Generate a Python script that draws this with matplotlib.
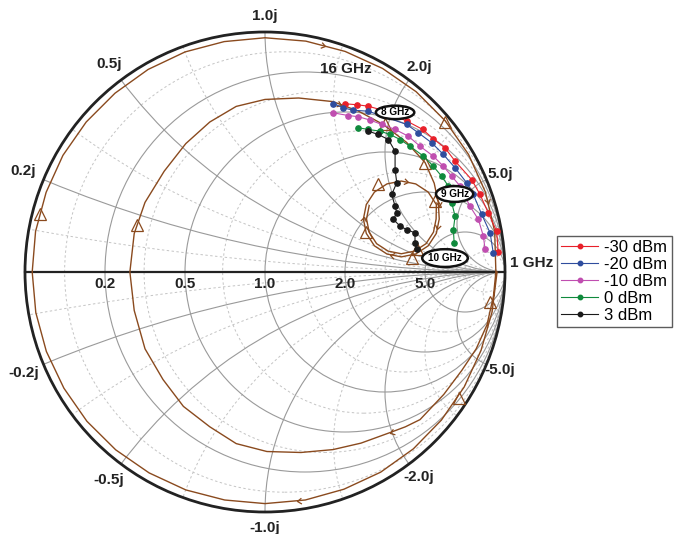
import numpy as np
import matplotlib

matplotlib.use("Agg")
import matplotlib.pyplot as plt
from matplotlib.lines import Line2D
from matplotlib.markers import MarkerStyle
from matplotlib.patches import Circle, Ellipse
from matplotlib.path import Path
from matplotlib.transforms import Affine2D

plt.rcParams["font.family"] = ["Liberation Sans", "DejaVu Sans"]

# measured reflection coefficient (re, im), from the 16 GHz end to the 1 GHz end
RED_RE = [0.333, 0.382, 0.430, 0.479, 0.593, 0.657, 0.701, 0.750, 0.792, 0.861, 0.896, 0.930, 0.965, 0.972]
RED_IM = [0.701, 0.697, 0.691, 0.677, 0.628, 0.594, 0.555, 0.517, 0.462, 0.385, 0.323, 0.247, 0.170, 0.083]
BLUE_RE = [0.285, 0.326, 0.368, 0.430, 0.590, 0.639, 0.695, 0.743, 0.792, 0.840, 0.868, 0.903, 0.938, 0.951]
BLUE_IM = [0.702, 0.684, 0.674, 0.670, 0.615, 0.580, 0.538, 0.490, 0.434, 0.372, 0.323, 0.240, 0.163, 0.080]
MAG_RE = [0.285, 0.347, 0.389, 0.438, 0.486, 0.542, 0.597, 0.646, 0.701, 0.743, 0.778, 0.813, 0.854, 0.889, 0.910, 0.917]
MAG_IM = [0.663, 0.652, 0.647, 0.633, 0.615, 0.594, 0.566, 0.524, 0.483, 0.441, 0.399, 0.358, 0.274, 0.219, 0.149, 0.094]
GREEN_RE = [0.389, 0.430, 0.479, 0.521, 0.563, 0.604, 0.660, 0.701, 0.736, 0.764, 0.778, 0.792, 0.785, 0.788]
GREEN_IM = [0.601, 0.594, 0.587, 0.573, 0.552, 0.524, 0.483, 0.441, 0.399, 0.358, 0.288, 0.233, 0.177, 0.122]
BLACK_RE = [0.430, 0.472, 0.514, 0.542, 0.542, 0.549, 0.528, 0.542, 0.549, 0.535, 0.563, 0.590, 0.625, 0.625, 0.632]
BLACK_IM = [0.587, 0.573, 0.552, 0.503, 0.427, 0.372, 0.323, 0.274, 0.247, 0.219, 0.191, 0.177, 0.163, 0.122, 0.094]

SERIES = [
    ("-30 dBm", RED_RE, RED_IM, "#e8202a"),
    ("-20 dBm", BLUE_RE, BLUE_IM, "#2f4d9e"),
    ("-10 dBm", MAG_RE, MAG_IM, "#c04eb0"),
    ("0 dBm", GREEN_RE, GREEN_IM, "#0f8a3c"),
    ("3 dBm", BLACK_RE, BLACK_IM, "#1a1a1a"),
]

# simulated response, 1 GHz -> 16 GHz (spiral: outer loop, middle loop, small loop)
SIM_RE = [0.967, 0.946, 0.900, 0.830, 0.735, 0.618, 0.482, 0.329, 0.168, 0.000, -0.168, -0.330,
          -0.483, -0.622, -0.742, -0.838, -0.911, -0.955, -0.970, -0.956, -0.912, -0.842, -0.745,
          -0.625, -0.487, -0.333, -0.170, 0.000, 0.170, 0.334, 0.490, 0.630, 0.751, 0.848, 0.918,
          0.957, 0.962,
          0.952, 0.925, 0.880, 0.820, 0.745, 0.646, 0.585, 0.521, 0.400, 0.283, 0.150, 0.008, -0.120,
          -0.230, -0.340, -0.425, -0.500, -0.545, -0.563, -0.545, -0.500, -0.420, -0.330, -0.230,
          -0.120, 0.000, 0.140, 0.283, 0.390, 0.492, 0.590, 0.667, 0.705, 0.722,
          0.726, 0.714, 0.680, 0.628, 0.568, 0.508, 0.456, 0.422, 0.410, 0.422, 0.456, 0.508, 0.568,
          0.628, 0.680, 0.714, 0.713, 0.702, 0.671, 0.623, 0.568, 0.513, 0.465, 0.434, 0.423, 0.434]
SIM_IM = [0.000, -0.167, -0.327, -0.479, -0.617, -0.737, -0.834, -0.905, -0.950, -0.965, -0.950, -0.908,
          -0.837, -0.741, -0.622, -0.484, -0.331, -0.169, 0.000, 0.169, 0.332, 0.486, 0.625,
          0.745, 0.844, 0.917, 0.960, 0.976, 0.962, 0.919, 0.848, 0.751, 0.630, 0.490, 0.334,
          0.169, 0.000,
          -0.100, -0.220, -0.320, -0.410, -0.510, -0.615, -0.645, -0.669, -0.713, -0.740, -0.752, -0.748,
          -0.715, -0.645, -0.560, -0.448, -0.320, -0.160, 0.000, 0.160, 0.290, 0.420, 0.535, 0.625,
          0.690, 0.719, 0.725, 0.710, 0.670, 0.615, 0.540, 0.456, 0.370, 0.290,
          0.221, 0.161, 0.109, 0.075, 0.063, 0.075, 0.109, 0.161, 0.221, 0.281, 0.333, 0.367, 0.379,
          0.367, 0.333, 0.281, 0.221, 0.166, 0.118, 0.087, 0.076, 0.087, 0.118, 0.166, 0.221, 0.276]
MARK_RE = [0.938, 0.808, -0.938, 0.750, -0.533, 0.500, 0.667, 0.708, 0.471, 0.421, 0.611, 0.632]
MARK_IM = [-0.127, -0.523, 0.240, 0.627, 0.194, 0.615, 0.456, 0.294, 0.365, 0.165, 0.059, 0.094]
ARROW_RE = [0.258, 0.938, 0.133, 0.521, 0.596, 0.721, 0.721, 0.521, 0.408, 0.321]
ARROW_IM = [0.969, 0.290, -0.948, -0.669, 0.385, 0.273, 0.177, 0.065, 0.231, 0.710]

GRID_MAJOR = [0.2, 0.5, 1.0, 2.0, 5.0]
GRID_MINOR = [0.09, 0.33, 0.7, 1.4, 3.0, 11.0]
BROWN = "#8a4a1e"

fig = plt.figure(figsize=(6.75, 5.34), dpi=100)
ax = fig.add_axes([25 / 675, 22 / 534, 480 / 675, 480 / 534])
ax.set_xlim(-1, 1)
ax.set_ylim(-1, 1)
ax.axis("off")

unit = Circle((0, 0), 1, transform=ax.transData, fill=False, lw=0)
ax.add_patch(unit)


def grid_circle(center, radius, style):
    c = Circle(center, radius, fill=False, **style)
    ax.add_patch(c)
    c.set_clip_path(unit)


minor = dict(ec="#c4c4c4", lw=0.7, ls=(0, (2.5, 2.5)))
major = dict(ec="#9a9a9a", lw=0.8)
for vals, style in ((GRID_MINOR, minor), (GRID_MAJOR, major)):
    for v in vals:
        grid_circle((v / (1 + v), 0), 1 / (1 + v), style)
        grid_circle((1, 1 / v), 1 / v, style)
        grid_circle((1, -1 / v), 1 / v, style)

ax.plot([-1, 1], [0, 0], color="#222222", lw=1.6, clip_on=False)
ax.add_patch(Circle((0, 0), 1, fill=False, ec="#222222", lw=2.0, clip_on=False))

# simulated curve with markers and direction arrows
ax.plot(SIM_RE, SIM_IM, color=BROWN, lw=1.0, zorder=3)
ax.plot(MARK_RE, MARK_IM, ls="none", marker="^", ms=9, mfc="none", mec=BROWN, mew=0.9, zorder=4)

chevron = Path([(-1, 0.7), (0, 0), (-1, -0.7)], [Path.MOVETO, Path.LINETO, Path.LINETO])
pts = np.column_stack([SIM_RE, SIM_IM])
for tx, ty in zip(ARROW_RE, ARROW_IM):
    best = None
    for a, b in zip(pts[:-1], pts[1:]):
        d = b - a
        t = np.clip(np.dot((tx, ty) - a, d) / np.dot(d, d), 0, 1)
        p = a + t * d
        dist = np.hypot(*(p - (tx, ty)))
        if best is None or dist < best[0]:
            best = (dist, p, d)
    _, p, d = best
    ang = np.degrees(np.arctan2(d[1], d[0]))
    m = MarkerStyle(chevron, fillstyle="none", transform=Affine2D().rotate_deg(ang))
    ax.plot(p[0], p[1], marker=m, ms=6, mec=BROWN, mew=0.9, ls="none", zorder=4)

for label, xs, ys, color in SERIES:
    ax.plot(xs, ys, color=color, lw=0.8, marker="o", ms=3.8, mec=color, mfc=color, zorder=5)

# axis labels
bold = dict(fontsize=11, fontweight="bold", color="#222222")
for v in GRID_MAJOR:
    ax.text((v - 1) / (v + 1), -0.052, f"{v:.1f}", ha="center", va="center", **bold)
label_r = {0.2: 1.09, 0.5: 1.085, 1.0: 1.068, 2.0: 1.07, 5.0: 1.06}
for v in GRID_MAJOR:
    th = 2 * np.arctan(1 / v)
    for s in (1, -1):
        r = label_r[v]
        ax.text(r * np.cos(th), s * r * np.sin(th), f"{s * v:.1f}j", ha="center", va="center", **bold)

ax.text(1.021, 0.038, "1 GHz", ha="left", va="center", **bold)
ax.text(0.338, 0.844, "16 GHz", ha="center", va="center", **bold)
for txt, x, y, w, h in (("8 GHz", 0.542, 0.665, 0.16, 0.056),
                        ("9 GHz", 0.790, 0.325, 0.155, 0.066),
                        ("10 GHz", 0.750, 0.058, 0.19, 0.074)):
    ax.add_patch(Ellipse((x, y), w, h, fc="white", ec="#111111", lw=1.8, zorder=6))
    ax.text(x, y, txt, ha="center", va="center", fontsize=7.2, fontweight="bold", zorder=7)

handles = [Line2D([], [], color=c, lw=0.8, marker="o", ms=3.2) for _, _, _, c in SERIES]
fig.legend(handles, [s[0] for s in SERIES], loc="upper left", bbox_to_anchor=(557 / 675, 1 - 236 / 534),
           frameon=True, fancybox=False, edgecolor="#333333", fontsize=12, handlelength=2.2,
           handletextpad=0.4, borderpad=0.25, labelspacing=0.12, borderaxespad=0)

fig.savefig("out.png", dpi=100)
